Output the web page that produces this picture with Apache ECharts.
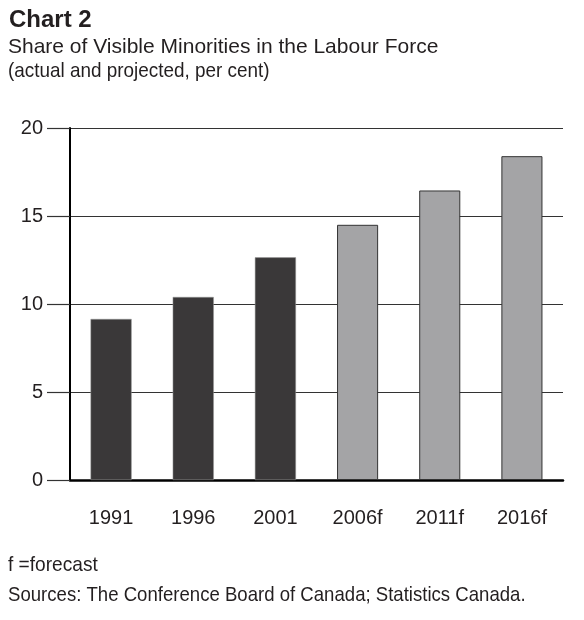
<!DOCTYPE html>
<html>
<head>
<meta charset="utf-8">
<script src="https://cdn.jsdelivr.net/npm/echarts@6/dist/echarts.min.js"></script>
<style>
    html, body { margin: 0; padding: 0; background: #fff; }
    #chart { width: 584px; height: 620px; }
</style>
</head>
<body>
<div id="chart"></div>
<script>
// chart data
const categories = ['1991', '1996', '2001', '2006f', '2011f', '2016f'];
const shareValues = [9.15, 10.4, 12.65, 14.5, 16.45, 18.4];
const actualCount = 3; // first three are actual, the rest forecast
const yTicks = { min: 0, max: 20, interval: 5 };

const baseFont = "'Liberation Sans', Arial, sans-serif";
const textColor = '#231f20';

const actualStyle = { color: '#3a3839', borderColor: '#9a9a9a', borderWidth: 0.5 };
const forecastStyle = { color: '#a4a4a6', borderColor: '#333333', borderWidth: 1 };

const barData = shareValues.map((v, i) => ({
    value: v,
    itemStyle: i < actualCount ? actualStyle : forecastStyle
}));

// scaleX squeezes Liberation Sans a bit, the original uses a condensed face
function textEl(x, y, text, font, scaleX) {
    return {
        type: 'text',
        x: x,
        y: y,
        scaleX: scaleX,
        style: {
            text: text,
            font: font,
            fill: textColor,
            textVerticalAlign: 'middle'
        }
    };
}

const chart = echarts.init(document.getElementById('chart'), null, { renderer: 'canvas' });

chart.setOption({
    animation: false,
    backgroundColor: '#fff',
    graphic: [
        textEl(9, 20.5, 'Chart 2', 'bold 24px ' + baseFont, 1),
        textEl(8, 47.5, 'Share of Visible Minorities in the Labour Force', '21px ' + baseFont, 1),
        textEl(8, 71.5, '(actual and projected, per cent)', '21px ' + baseFont, 0.9),
        textEl(8, 565, 'f =forecast', '21px ' + baseFont, 0.91),
        textEl(8, 595.5, 'Sources: The Conference Board of Canada; Statistics Canada.', '21px ' + baseFont, 0.885)
    ],
    grid: {
        left: 70,
        right: 21,
        top: 128,
        bottom: 140
    },
    xAxis: {
        type: 'category',
        data: categories,
        axisLine: { show: true, lineStyle: { color: '#000', width: 2.5 } },
        axisTick: { show: false },
        axisLabel: {
            margin: 28,
            fontSize: 20,
            fontFamily: baseFont,
            color: textColor
        },
        splitLine: { show: false }
    },
    yAxis: {
        type: 'value',
        min: yTicks.min,
        max: yTicks.max,
        interval: yTicks.interval,
        axisLine: { show: true, lineStyle: { color: '#000', width: 2 } },
        axisTick: {
            show: true,
            inside: false,
            length: 23,
            lineStyle: { color: '#333', width: 1.2 }
        },
        axisLabel: {
            margin: 27,
            fontSize: 20,
            fontFamily: baseFont,
            color: textColor
        },
        splitLine: { show: true, lineStyle: { color: '#333', width: 1.2 } }
    },
    series: [{
        type: 'bar',
        data: barData,
        barCategoryGap: '50%'
    }]
});
</script>
</body>
</html>
